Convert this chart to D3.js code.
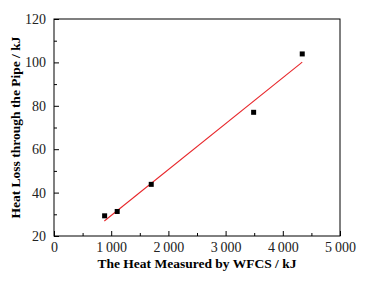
<!DOCTYPE html>
<html>
<head>
<meta charset="utf-8">
<script src="https://cdn.jsdelivr.net/npm/d3@7"></script>
<style>
body { margin: 0; background: #fff; }
text { font-family: "Liberation Serif", "Times New Roman", serif; }
</style>
</head>
<body>
<div id="chartContainer"></div>
<script>
var heatWFCS = [885, 1105, 1700, 3490, 4340]
var heatLoss = [29.3, 31.3, 43.8, 77.0, 103.9]
var fitX = [880, 4340]
var fitY = [26.9, 100.1]
var xTicks = [0, 1000, 2000, 3000, 4000, 5000]
var xTickLabels = ['0', '1\u2009000', '2\u2009000', '3\u2009000', '4\u2009000', '5\u2009000']
var yTicks = [20, 40, 60, 80, 100, 120]

var width = 371, height = 285
var margin = { left: 54, right: 31, top: 19, bottom: 49 }

var svg = d3.select('#chartContainer').append('svg')
    .attr('width', width)
    .attr('height', height)

var xScale = d3.scaleLinear()
    .domain([0, 5000])
    .range([margin.left, width - margin.right])

var yScale = d3.scaleLinear()
    .domain([20, 120])
    .range([height - margin.bottom, margin.top])

// frame
svg.append('rect')
    .attr('x', margin.left)
    .attr('y', margin.top)
    .attr('width', xScale(5000) - xScale(0))
    .attr('height', yScale(20) - yScale(120))
    .style('fill', 'none')
    .style('stroke', '#000')
    .style('stroke-width', 1)

// bottom axis, ticks pointing inward
var xAxis = d3.axisBottom(xScale)
    .tickValues(xTicks)
    .tickSize(-5)
    .tickPadding(6)
    .tickFormat(function(d, i) { return xTickLabels[i] })

var xG = svg.append('g')
    .attr('transform', 'translate(0,' + yScale(20) + ')')
    .call(xAxis)
xG.select('.domain').remove()
xG.selectAll('text').style('font-size', '14px').style('fill', '#222')

var xMinor = svg.append('g')
    .attr('transform', 'translate(0,' + yScale(20) + ')')
    .call(d3.axisBottom(xScale).tickValues([500, 1500, 2500, 3500, 4500]).tickSize(-3).tickFormat(''))
xMinor.select('.domain').remove()

// left axis, ticks pointing inward
var yG = svg.append('g')
    .attr('transform', 'translate(' + xScale(0) + ',0)')
    .call(d3.axisLeft(yScale).tickValues(yTicks).tickSize(-5).tickPadding(8))
yG.select('.domain').remove()
yG.selectAll('text').style('font-size', '14px').style('fill', '#222')

var yMinor = svg.append('g')
    .attr('transform', 'translate(' + xScale(0) + ',0)')
    .call(d3.axisLeft(yScale).tickValues([30, 50, 70, 90, 110]).tickSize(-3).tickFormat(''))
yMinor.select('.domain').remove()

// fit line
var fitData = fitX.map(function(x, i) { return { x: x, y: fitY[i] } })
svg.append('path')
    .datum(fitData)
    .attr('d', d3.line()
        .x(function(d) { return xScale(d.x) })
        .y(function(d) { return yScale(d.y) }))
    .style('fill', 'none')
    .style('stroke', '#e8262a')
    .style('stroke-width', 1.1)

// points
var points = heatWFCS.map(function(x, i) { return { x: x, y: heatLoss[i] } })
svg.append('g').selectAll('rect')
    .data(points)
    .enter()
    .append('rect')
    .attr('x', function(d) { return xScale(d.x) - 2.5 })
    .attr('y', function(d) { return yScale(d.y) - 2.5 })
    .attr('width', 5)
    .attr('height', 5)
    .style('fill', '#000')

// axis titles
svg.append('text')
    .attr('x', (xScale(0) + xScale(5000)) / 2)
    .attr('y', 268)
    .attr('text-anchor', 'middle')
    .style('font-size', '13.5px')
    .style('font-weight', 'bold')
    .text('The Heat Measured by WFCS / kJ')

svg.append('text')
    .attr('transform', 'translate(20,' + ((yScale(20) + yScale(120)) / 2) + ') rotate(-90)')
    .attr('text-anchor', 'middle')
    .style('font-size', '13.5px')
    .style('font-weight', 'bold')
    .text('Heat Loss through the Pipe / kJ')
</script>
</body>
</html>
